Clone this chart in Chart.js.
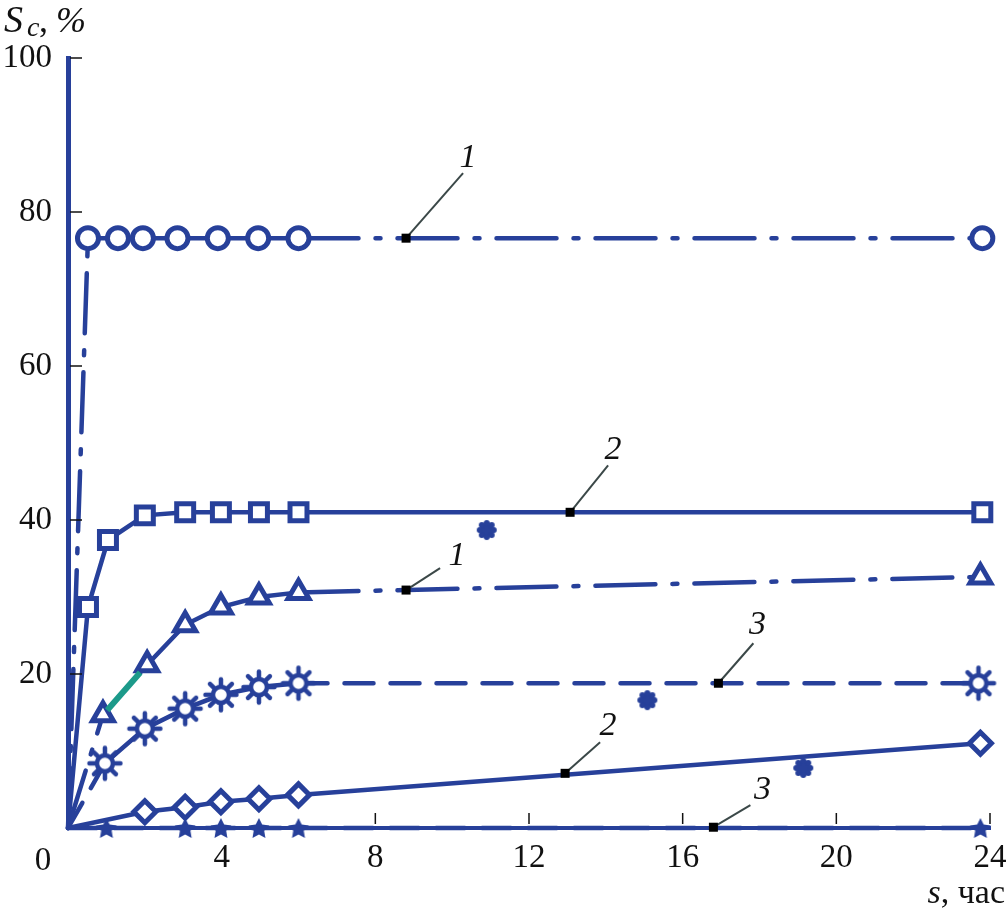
<!DOCTYPE html>
<html>
<head>
<meta charset="utf-8">
<script src="https://cdn.jsdelivr.net/npm/chart.js@4/dist/chart.umd.min.js"></script>
<style>
  html, body { margin: 0; padding: 0; background: #fff; }
  canvas { display: block; }
</style>
</head>
<body>
<canvas id="saturationChart" width="1008" height="914"></canvas>
<script>
// axis ticks
const xTicks = [0, 4, 8, 12, 16, 20, 24];
const yTicks = [0, 20, 40, 60, 80, 100];

// curve 1 (circles, dash-dot tail)
const hoursCircle = [0, 0.52, 1.3, 1.95, 2.85, 3.9, 4.95, 6.0, 23.8];
const valuesCircle = [0, 76.6, 76.6, 76.6, 76.6, 76.6, 76.6, 76.6, 76.6];
// curve 2 (squares, solid)
const hoursSquare = [0, 0.52, 1.04, 2.0, 3.05, 3.98, 4.97, 6.0, 23.8];
const valuesSquare = [0, 28.7, 37.4, 40.6, 41.0, 41.0, 41.0, 41.0, 41.0];
// curve 1 (triangles, dash-dot tail)
const hoursTriangle = [0, 0.91, 2.06, 3.05, 3.98, 4.97, 6.0, 23.75];
const valuesTriangle = [0, 14.7, 21.2, 26.4, 28.7, 30.0, 30.6, 32.6];
// curve 3 (suns, dashed tail)
const hoursSun = [0, 0.96, 2.0, 3.05, 3.98, 4.97, 6.0, 23.7];
const valuesSun = [0, 8.4, 12.9, 15.5, 17.3, 18.3, 18.8, 18.8];
// curve 2 (diamonds, solid)
const hoursDiamond = [0, 2.0, 3.05, 3.98, 4.97, 6.0, 23.75];
const valuesDiamond = [0, 2.1, 2.7, 3.4, 3.8, 4.3, 11.0];
// curve 3 (stars, dashed)
const hoursStar = [0, 1.0, 3.05, 3.98, 4.97, 6.0, 23.75];
const valuesStar = [0, 0, 0, 0, 0, 0, 0];
// separate blob points
const hoursBlob = [10.9, 15.08, 19.14];
const valuesBlob = [38.7, 16.6, 7.8];
// green highlighted piece on the triangle curve
const hoursGreen = [1.02, 1.88];
const valuesGreen = [15.3, 20.2];

// curve numbers with leader lines
const noteLabels = ['1', '2', '1', '3', '2', '3'];
const noteHours = [8.8, 13.07, 8.8, 16.93, 12.94, 16.8];
const noteValues = [76.6, 41.0, 30.9, 18.8, 7.1, 0.1];

const blue = '#27409a';
const serif = '"Liberation Serif", "Times New Roman", serif';

function pts(xs, ys) {
  return xs.map((v, i) => ({ x: v, y: ys[i] }));
}

function makeSun() {
  const c = document.createElement('canvas');
  c.width = c.height = 38;
  const g = c.getContext('2d');
  g.strokeStyle = blue;
  g.lineWidth = 4.5;
  g.lineCap = 'round';
  for (let i = 0; i < 8; i++) {
    const a = i * Math.PI / 4;
    g.beginPath();
    g.moveTo(19 + 9 * Math.cos(a), 19 + 9 * Math.sin(a));
    g.lineTo(19 + 15.5 * Math.cos(a), 19 + 15.5 * Math.sin(a));
    g.stroke();
  }
  g.beginPath();
  g.arc(19, 19, 8, 0, Math.PI * 2);
  g.fillStyle = '#fff';
  g.fill();
  g.stroke();
  return c;
}

function makeStar() {
  const c = document.createElement('canvas');
  c.width = c.height = 26;
  const g = c.getContext('2d');
  g.fillStyle = blue;
  g.beginPath();
  for (let i = 0; i < 10; i++) {
    const r = i % 2 ? 5.5 : 11;
    const a = -Math.PI / 2 + i * Math.PI / 5;
    g.lineTo(13 + r * Math.cos(a), 14 + r * Math.sin(a));
  }
  g.closePath();
  g.fill();
  return c;
}

function makeBlob() {
  const c = document.createElement('canvas');
  c.width = c.height = 24;
  const g = c.getContext('2d');
  g.fillStyle = blue;
  g.beginPath();
  g.arc(12, 12, 7, 0, Math.PI * 2);
  g.fill();
  for (let i = 0; i < 8; i++) {
    const a = i * Math.PI / 4;
    g.beginPath();
    g.arc(12 + 7 * Math.cos(a), 12 + 7 * Math.sin(a), 3, 0, Math.PI * 2);
    g.fill();
  }
  return c;
}

const sunImg = makeSun();
const starImg = makeStar();
const blobImg = makeBlob();

const dashDot = [60, 17, 5, 17];
const dashed = [29, 17];

// dash the first segment (from origin) and the tail after 6 h
function tailDash(pattern) {
  return ctx => (ctx.p0.parsed.x === 0 || ctx.p0.parsed.x >= 6) ? pattern : [];
}
function hideOrigin(r) {
  return ctx => (ctx.raw && ctx.raw.x === 0) ? 0 : r;
}

function series(data, style, radius, dash) {
  return {
    data: data,
    borderColor: blue,
    backgroundColor: '#fff',
    borderWidth: 4.5,
    borderCapStyle: 'round',
    pointStyle: style,
    pointRadius: hideOrigin(radius),
    pointBorderWidth: 5,
    pointBorderColor: blue,
    pointBackgroundColor: '#fff',
    segment: dash ? { borderDash: dash } : undefined,
    tension: 0,
    clip: false,
  };
}

const decor = {
  id: 'decor',
  afterDraw(chart) {
    const { ctx } = chart;
    const x = chart.scales.x;
    const y = chart.scales.y;
    ctx.save();

    // small inner tick marks
    ctx.strokeStyle = '#111';
    ctx.lineWidth = 1.5;
    yTicks.slice(1).forEach(v => {
      const py = y.getPixelForValue(v);
      ctx.beginPath();
      ctx.moveTo(x.left + 2, py);
      ctx.lineTo(x.left + 14, py);
      ctx.stroke();
    });
    xTicks.slice(2).forEach(v => {
      const px = x.getPixelForValue(v);
      ctx.beginPath();
      ctx.moveTo(px, y.bottom - 4);
      ctx.lineTo(px, y.bottom - 15);
      ctx.stroke();
    });

    // "0" at the origin corner
    ctx.fillStyle = '#111';
    ctx.font = '33px ' + serif;
    ctx.textAlign = 'center';
    ctx.textBaseline = 'alphabetic';
    ctx.fillText('0', x.left - 25, y.bottom + 42);

    // y axis title S_c, %
    ctx.textAlign = 'left';
    ctx.font = 'italic 38px ' + serif;
    ctx.fillText('S', 4, 32);
    ctx.font = 'italic 28px ' + serif;
    ctx.fillText('c', 27, 36);
    ctx.font = '36px ' + serif;
    ctx.fillText(',', 39, 32);
    ctx.font = 'italic 36px ' + serif;
    ctx.fillText('%', 56, 32);

    // x axis title s, час
    ctx.textAlign = 'right';
    ctx.font = '34px ' + serif;
    const tail = ', час';
    ctx.fillText(tail, 1005, 903);
    const w = ctx.measureText(tail).width;
    ctx.font = 'italic 34px ' + serif;
    ctx.fillText('s', 1005 - w, 903);

    // curve numbers
    const offsets = [[62, -83, 57, -65], [43, -65, 38, -47], [51, -37, 34, -22],
                     [39, -61, 35, -40], [43, -50, 35, -31], [49, -40, 37, -22]];
    ctx.textAlign = 'center';
    ctx.font = 'italic 34px ' + serif;
    noteLabels.forEach((t, i) => {
      const ax = x.getPixelForValue(noteHours[i]);
      const ay = y.getPixelForValue(noteValues[i]);
      const o = offsets[i];
      ctx.strokeStyle = '#3b4848';
      ctx.lineWidth = 2;
      ctx.beginPath();
      ctx.moveTo(ax, ay);
      ctx.lineTo(ax + o[2], ay + o[3]);
      ctx.stroke();
      ctx.fillStyle = '#000';
      ctx.fillRect(ax - 4.5, ay - 4.5, 9, 9);
      ctx.fillStyle = '#111';
      ctx.fillText(t, ax + o[0], ay + o[1] + 12);
    });
    ctx.restore();
  }
};

const chartCanvas = document.getElementById('saturationChart').getContext('2d');
new Chart(chartCanvas, {
  type: 'scatter',
  data: {
    datasets: [
      Object.assign(series(pts(hoursGreen, valuesGreen), 'circle', 0, null),
        { borderColor: '#1c9a8a', borderWidth: 6, showLine: true, borderCapStyle: 'butt' }),
      Object.assign(series(pts(hoursCircle, valuesCircle), 'circle', 10.5, tailDash(dashDot)), { showLine: true }),
      Object.assign(series(pts(hoursSquare, valuesSquare), 'rect', 12, null), { showLine: true }),
      Object.assign(series(pts(hoursTriangle, valuesTriangle), 'triangle', 12, tailDash(dashDot)), { showLine: true }),
      Object.assign(series(pts(hoursSun, valuesSun), sunImg, 1, tailDash(dashed)), { showLine: true }),
      Object.assign(series(pts(hoursDiamond, valuesDiamond), 'rectRot', 11, null), { showLine: true }),
      Object.assign(series(pts(hoursStar, valuesStar), starImg, 1, () => dashed), { showLine: true }),
      Object.assign(series(pts(hoursBlob, valuesBlob), blobImg, 1, null), { showLine: false }),
    ],
  },
  options: {
    responsive: false,
    animation: false,
    devicePixelRatio: 1,
    events: [],
    layout: { padding: { top: 58, right: 18, left: 0, bottom: 0 } },
    plugins: {
      legend: { display: false },
      tooltip: { enabled: false },
    },
    scales: {
      x: {
        type: 'linear',
        min: 0,
        max: 24,
        afterBuildTicks: s => { s.ticks = xTicks.map(v => ({ value: v })); },
        afterFit: s => { s.height = 86; s.paddingLeft = 0; s.paddingRight = 0; },
        ticks: {
          color: '#111',
          font: { family: serif, size: 33 },
          padding: 11,
          maxRotation: 0,
          autoSkip: false,
          callback: v => v === 0 ? '' : v,
        },
        grid: { display: false, drawTicks: false },
        border: { color: blue, width: 4 },
      },
      y: {
        type: 'linear',
        min: 0,
        max: 100,
        afterBuildTicks: s => { s.ticks = yTicks.map(v => ({ value: v })); },
        afterFit: s => { s.width = 68; s.paddingTop = 0; s.paddingBottom = 0; },
        ticks: {
          color: '#111',
          font: { family: serif, size: 33 },
          padding: 16,
          autoSkip: false,
          callback: v => v === 0 ? '' : v,
        },
        grid: { display: false, drawTicks: false },
        border: { color: blue, width: 5 },
      },
    },
  },
  plugins: [decor],
});
</script>
</body>
</html>
